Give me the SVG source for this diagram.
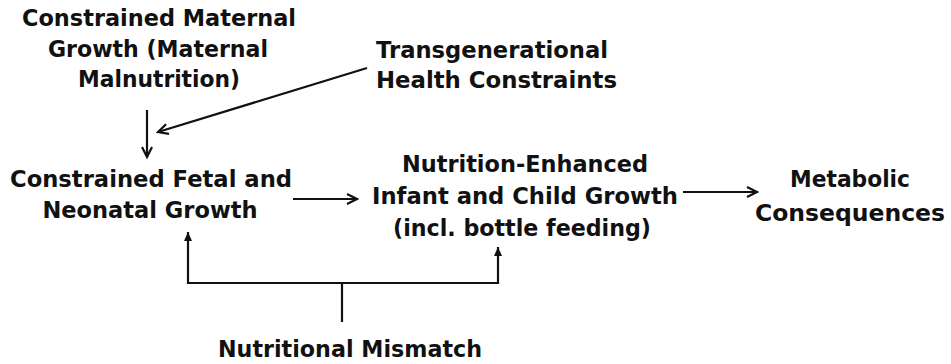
<svg xmlns="http://www.w3.org/2000/svg" width="951" height="364" viewBox="0 0 951 364">
  <style>
    text { font-family: "DejaVu Sans", "Liberation Sans", sans-serif; font-weight: bold; font-size: 23px; fill: #111; }
    .c { text-anchor: middle; }
    .edge { fill: none; stroke: #111; stroke-width: 2.2; }
  </style>
  <defs>
    <marker id="open" markerUnits="userSpaceOnUse" markerWidth="14" markerHeight="14" refX="12" refY="6" orient="auto">
      <path d="M2,1 L12,6 L2,11" fill="none" stroke="#111" stroke-width="2.2"/>
    </marker>
    <marker id="solid" markerUnits="userSpaceOnUse" markerWidth="12" markerHeight="12" refX="9" refY="4" orient="auto">
      <path d="M0,0 L9,4 L0,8 Z" fill="#111"/>
    </marker>
  </defs>

  <g id="edges">
    <line class="edge" x1="367" y1="68" x2="158" y2="132" marker-end="url(#open)"/>
    <line class="edge" x1="147" y1="110" x2="147" y2="157" marker-end="url(#open)"/>
    <line class="edge" x1="293" y1="199" x2="357" y2="199" marker-end="url(#open)"/>
    <line class="edge" x1="683" y1="192" x2="757" y2="192" marker-end="url(#open)"/>
    <path class="edge" d="M342,322 V283 M188,283 H498"/>
    <line class="edge" x1="188" y1="284" x2="188" y2="232" marker-end="url(#solid)"/>
    <line class="edge" x1="498" y1="284" x2="498" y2="247" marker-end="url(#solid)"/>
  </g>

  <g id="maternal">
    <text class="c" x="159" y="26" textLength="274" lengthAdjust="spacingAndGlyphs">Constrained Maternal</text>
    <text class="c" x="158" y="57" textLength="220" lengthAdjust="spacingAndGlyphs">Growth (Maternal</text>
    <text class="c" x="159" y="87" textLength="162" lengthAdjust="spacingAndGlyphs">Malnutrition)</text>
  </g>

  <g id="transgenerational">
    <text x="376" y="58" textLength="232" lengthAdjust="spacingAndGlyphs">Transgenerational</text>
    <text x="376" y="88" textLength="241" lengthAdjust="spacingAndGlyphs">Health Constraints</text>
  </g>

  <g id="fetal">
    <text class="c" x="151" y="187" textLength="282" lengthAdjust="spacingAndGlyphs">Constrained Fetal and</text>
    <text class="c" x="150" y="218" textLength="215" lengthAdjust="spacingAndGlyphs">Neonatal Growth</text>
  </g>

  <g id="infant">
    <text class="c" x="525" y="172" textLength="246" lengthAdjust="spacingAndGlyphs">Nutrition-Enhanced</text>
    <text class="c" x="525" y="204" textLength="306" lengthAdjust="spacingAndGlyphs">Infant and Child Growth</text>
    <text class="c" x="522" y="236" textLength="258" lengthAdjust="spacingAndGlyphs">(incl. bottle feeding)</text>
  </g>

  <g id="metabolic">
    <text class="c" x="850" y="187" textLength="120" lengthAdjust="spacingAndGlyphs">Metabolic</text>
    <text class="c" x="850" y="221" textLength="190" lengthAdjust="spacingAndGlyphs">Consequences</text>
  </g>

  <g id="mismatch">
    <text class="c" x="350" y="357" textLength="264" lengthAdjust="spacingAndGlyphs">Nutritional Mismatch</text>
  </g>
</svg>
